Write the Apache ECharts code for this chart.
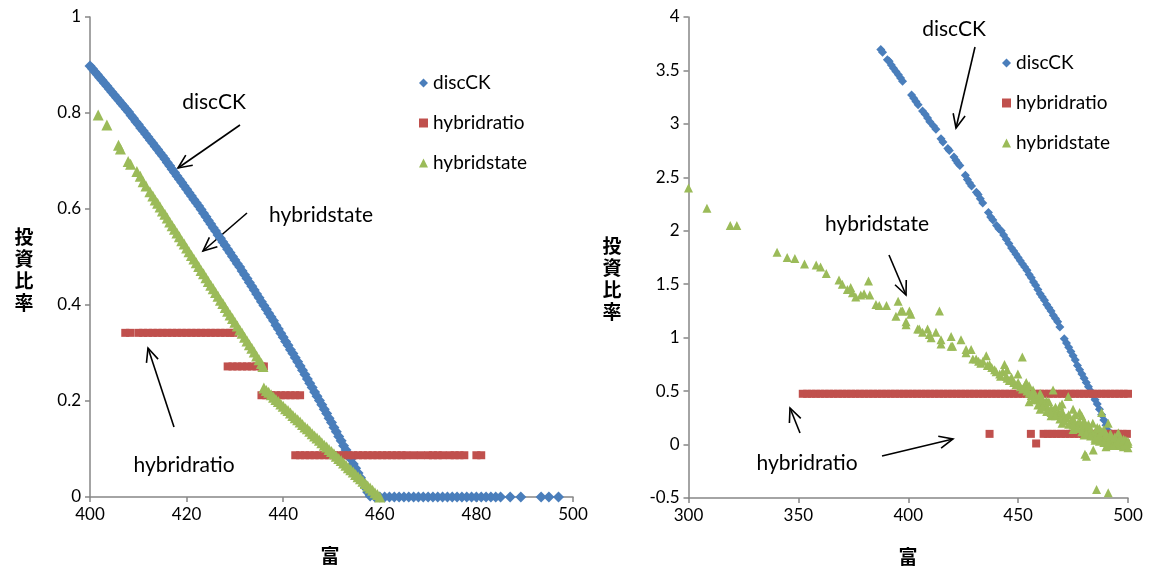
<!DOCTYPE html>
<html>
<head>
<meta charset="utf-8">
<script src="https://cdn.jsdelivr.net/npm/echarts@6/dist/echarts.min.js"></script>
<style>html,body{margin:0;background:#fff}#chart{width:1152px;height:572px}</style>
</head>
<body>
<div id="chart"></div>
<script>
// left panel (wealth 400-500)
const leftDiscCK = [
  [400,.898],[400.5,.892],[401,.886],[401.5,.880],[402,.874],[402.5,.868],[403,.862],[403.5,.856],
  [404,.850],[404.5,.844],[405,.838],[405.5,.832],[406,.826],[406.5,.820],[407,.814],[407.5,.808],
  [408,.802],[408.5,.795],[409,.789],[409.5,.782],[410,.776],[410.5,.769],[411,.763],[411.5,.756],
  [412,.750],[412.5,.743],[413,.737],[413.5,.730],[414,.724],[414.5,.717],[415,.711],[415.5,.704],
  [416,.697],[416.5,.690],[417,.683],[417.5,.676],[418,.669],[418.5,.662],[419,.655],[419.5,.648],
  [420,.641],[420.5,.634],[421,.627],[421.5,.620],[422,.613],[422.5,.606],[423,.599],[423.5,.591],
  [424,.584],[424.5,.576],[425,.569],[425.5,.561],[426,.554],[426.5,.546],[427,.539],[427.5,.531],
  [428,.524],[428.5,.516],[429,.509],[429.5,.501],[430,.494],[430.5,.486],[431,.479],[431.5,.471],
  [432,.463],[432.5,.455],[433,.447],[433.5,.439],[434,.431],[434.5,.423],[435,.415],[435.5,.407],
  [436,.399],[436.5,.391],[437,.383],[437.5,.375],[438,.367],[438.5,.358],[439,.350],[439.5,.341],
  [440,.333],[440.5,.324],[441,.316],[441.5,.307],[442,.299],[442.5,.290],[443,.282],[443.5,.273],
  [444,.264],[444.5,.255],[445,.246],[445.5,.237],[446,.228],[446.5,.219],[447,.210],[447.5,.201],
  [448,.192],[448.5,.183],[449,.174],[449.5,.164],[450,.155],[450.5,.145],[451,.136],[451.5,.126],
  [452,.117],[452.5,.107],[453,.098],[453.5,.088],[454,.079],[454.5,.069],[455,.060],[455.5,.050],
  [456,.040],[456.5,.030],[457,.020],[457.5,.010],[458,.002],
  [459,0],[460,0],[461,0],[462,0],[463,0],[464,0],[465,0],[466,0],[467,0],[468,0],[469,0],[470,0],[471,0],
  [472,0],[473,0],[474,0],[475,0],[476,0],[477,0],[478,0],[479,0],[480,0],[481,0],[482,0],[483,0],[484,0],
  [485,0],[487,0],[489.2,0],[493.4,0],[495,0],[497,0]
];
const leftRatio = [
  [407.3,.342],[408.3,.342],[410,.342],[411,.342],[412,.342],[413,.342],[414,.342],[415,.342],[416,.342],
  [417,.342],[418,.342],[419,.342],[420,.342],[421,.342],[422,.342],[423,.342],[424,.342],[425,.342],
  [426,.342],[427,.342],[428,.342],[429,.342],[429.7,.342],
  [428.5,.272],[429.5,.272],[430.5,.272],[431.5,.272],[432.5,.272],[433.5,.272],[434.5,.272],[435.5,.272],[436,.272],
  [435.5,.212],[436.5,.212],[437.5,.212],[438.5,.212],[439.5,.212],[440.5,.212],[441.5,.212],[442.5,.212],[443.5,.212],
  [442.5,.087],[443.5,.087],[444.5,.087],[445.5,.087],[446.5,.087],[447.5,.087],[448.5,.087],[449.5,.087],
  [450.5,.087],[451.5,.087],[452.5,.087],[453.5,.087],[454.5,.087],[455.5,.087],[456.5,.087],[457.5,.087],
  [458.5,.087],[459.5,.087],[460.5,.087],[461.5,.087],[462.5,.087],[463.5,.087],[464.5,.087],[465.5,.087],
  [467,.087],[468.5,.087],[470,.087],[471,.087],[472,.087],[473,.087],[474.5,.087],[475.5,.087],[476.5,.087],
  [477.5,.087],[480,.087],[481,.087]
];
const leftState = [
  [401.7,.796],[403.5,.775],[405.9,.733],[406.3,.725],[407.9,.699],[408.4,.693],[409.7,.678],[410.4,.668],
  [411,.657],[411.6,.648],[412.4,.636],[413,.627],[413.5,.619],[414,.612],[414.5,.604],[415,.596],[415.5,.589],
  [416,.581],[416.5,.573],[417,.565],[417.5,.558],[418,.550],[418.5,.542],[419,.534],[419.5,.527],[420,.519],
  [420.5,.511],[421,.503],[421.5,.496],[422,.488],[422.5,.480],[423,.472],[423.5,.465],[424,.457],[424.5,.449],
  [425,.441],[425.5,.434],[426,.426],[426.5,.418],[427,.410],[427.5,.403],[428,.395],[428.5,.387],[429,.379],
  [429.5,.372],[430,.364],[430.5,.356],[431,.348],[431.5,.341],[432,.333],[432.5,.325],[433,.317],[433.5,.310],
  [434,.302],[434.5,.294],[435,.286],[435.5,.278],[435.8,.272],
  [436,.227],[436.5,.222],[437,.218],[437.5,.213],[438,.208],[438.5,.203],[439,.199],[439.5,.194],[440,.189],
  [440.5,.184],[441,.180],[441.5,.175],[442,.170],[442.5,.165],[443,.161],[443.5,.156],[444,.151],[444.5,.146],
  [445,.142],[445.5,.137],[446,.132],[446.5,.127],[447,.123],[447.5,.118],[448,.113],[448.5,.108],[449,.104],
  [449.5,.099],[450,.095],[450.5,.090],[451,.085],[451.5,.080],[452,.076],[452.5,.071],[453,.066],[453.5,.061],
  [454,.057],[454.5,.052],[455,.047],[455.5,.042],[456,.038],[456.5,.033],[457,.028],[457.5,.023],[458,.019],
  [458.5,.014],[459,.009],[459.5,.005],[460,0]
];

// right panel (wealth 300-500)
const rightDiscCK = [
  [387.5,3.695],[388.3,3.67],[390.5,3.60],[391.3,3.585],[392.3,3.55],[393.3,3.52],[394.4,3.49],[395.5,3.46],
  [396.5,3.43],[397.4,3.40],[401.5,3.27],[402.5,3.24],[403.5,3.21],[404.5,3.18],[406.5,3.12],[407.7,3.09],
  [408.8,3.056],[409.8,3.02],[411.5,2.98],[412.6,2.95],[414.9,2.86],[415.8,2.83],[418,2.77],[418.7,2.75],
  [420.8,2.69],[421.7,2.66],[422.5,2.635],[423.5,2.61],[426,2.52],[426.9,2.48],[427.9,2.448],[428.8,2.42],
  [431,2.36],[431.8,2.34],[432.8,2.30],[433.9,2.26],[436.5,2.17],[437.5,2.13],[438.5,2.10],[440.2,2.05],
  [441.2,2.02],[442.3,2.00],[443.4,1.96],[444.6,1.92],[445.8,1.88],[447,1.84],[448,1.81],[449,1.78],
  [450,1.75],[451,1.72],[452,1.69],[453,1.66],[454,1.63],[455,1.59],[456,1.56],[457,1.52],[458,1.49],
  [459,1.45],[460,1.41],[461,1.38],[462,1.35],[463,1.31],[464,1.28],[465,1.25],[466,1.21],[467,1.18],
  [468,1.15],[469,1.10],[471,0.99],[472,0.95],[473,0.91],[474,0.87],[475,0.83],[476,0.79],[477,0.74],
  [478,0.70],[479,0.66],[480,0.62],[481,0.58],[482,0.54],[483,0.50],[484,0.46],[485,0.42],[486,0.38],
  [487,0.33],[488,0.28],[489,0.23],[490,0.18],[491,0.13],[492,0.08],[493,0.03],[494,0.00]
];
const rightRatioHi = [352,354,356,358,360,362,364,366,368,370,372,374,376,378,380,382,384,386,388,
  390,392,394,396,398,400,402,404,406,408,410,412,414,416,418,420,422,424,426,428,430,432,434,436,438,440,
  442,444,446,448,450,452,454,456,458,460,462,464,466,468,470,472,474,476,478,480,482,484,486,488,490,
  492,494,496,498,500];
const rightRatioMid = [437,455.8,461.6,463.5,465.5,467.5,469.5,471.5,473.5,475.5,477.5,479.5,481.5,483.5,
  485.5,487.5,489.5,491.5,493.5,495.5,497.5,499.5];
const rightRatioLow = [458.2,493,494.5,496,497.5,499];
const ratioLevels = [0.475, 0.10, 0.01];
const rightState = [
  [300,2.40],[308.4,2.21],[319,2.05],[322,2.05],[340.3,1.80],[344.9,1.75],[348.4,1.74],[352.8,1.69],
  [358.1,1.68],[360.1,1.66],[362.7,1.60],[368.5,1.54],[370,1.50],[372.3,1.45],[373.8,1.47],[374.6,1.42],
  [376.1,1.38],[378.4,1.40],[379.9,1.41],[381.9,1.53],[382.5,1.40],[385.3,1.31],[386.8,1.30],[390.1,1.30],
  [394.4,1.20],[395.4,1.34],[396.7,1.25],[397.4,1.25],[399,1.15],[399,1.12],[400.5,1.25],[401.2,1.22],
  [404.3,1.08],[405,1.08],[406.5,1.05],[408.8,1.08],[409.6,1.03],[410.4,1.00],[412.6,1.05],[414.2,1.25],
  [414.9,0.98],[414.9,0.94],[419.5,1.01],[419.5,0.92],[420.2,0.92],[424,0.98],[426.3,0.86],[426.3,0.89],
  [428.6,0.89],[429.4,0.80],[430.9,0.80],[435.5,0.83],[437,0.75],[439.3,0.70],[441.6,0.66],[443.8,0.75],
  [444.6,0.64],[449.9,0.66],[451.9,0.82],[453.7,0.58],[456.8,0.51],[459.8,0.45],[462.9,0.41],[465.9,0.51],
  [469,0.36],[472.8,0.45],[475,0.33],[478.9,0.27],[479.6,0.20],[481.9,0.17],[485,0.11],[487.3,0.06],
  [488,0.30],[490.3,0.02],[491,0.20],[493.3,0.00],[495.6,0.11],[497.9,-0.02],[500,-0.03],[481.1,-0.11],
  [484.2,-0.05],[480.4,-0.09],[485.7,-0.42],[491,-0.45],
  [432,0.78],[433,0.76],[434,0.78],[436,0.74],[438,0.72],[440,0.68],[442,0.64],[443,0.68],[445,0.62],
  [446,0.60],[447,0.63],[448,0.58],[449,0.56],[450,0.58],[451,0.54],[452,0.52],[453,0.55],[454,0.50],
  [455,0.48],[456,0.46],[457,0.49],[458,0.44],[459,0.42],[460,0.40],[461,0.43],[462,0.38],[463,0.36],
  [464,0.40],[465,0.34],[466,0.32],[467,0.35],[468,0.30],[469,0.29],[470,0.31],[471,0.26],[472,0.25],
  [473,0.28],[474,0.22],[475,0.24],[476,0.20],[477,0.19],[478,0.21],[479,0.16],[480,0.15],[481,0.13],
  [482,0.12],[483,0.14],[484,0.10],[485,0.08],[486,0.07],[487,0.09],[488,0.05],[489,0.04],[490,0.06],
  [491,0.03],[492,0.05],[493,0.02],[494,0.03],[495,0.01],[496,0.02],[497,0.00],[498,0.01],[499,0.00],[500,0.01],
  [455,0.40],[460,0.33],[465,0.27],[470,0.20],[475,0.14],[480,0.09],[485,0.04],[490,-0.02],[495,-0.01],
  [445,0.70],[455,0.55],[460,0.48],[470,0.38],[478,0.30],[484,0.20],[487,0.15],[492,0.10],[496,0.06],[499,0.04],
  [457,0.42],[459,0.37],[461,0.35],[463,0.31],[465,0.30],[467,0.27],[469,0.24],[471,0.22],[473,0.19],
  [475,0.18],[477,0.15],[479,0.12],[481,0.10],[483,0.08],[485,0.06],[487,0.03],[489,0.02],[491,0.01],
  [493,-0.01],[495,0.03],[497,0.04],[499,0.02],[488,0.12],[490,0.10],[492,0.08],[494,0.07],[496,0.04],
  [498,0.05],[500,0.03],[476,0.28],[480,0.22],[482,0.19],[486,0.16],[489,0.14]
];

const seriesNames = ['discCK', 'hybridratio', 'hybridstate'];
const BLUE = '#4a7ebb', RED = '#c0504d', GREEN = '#9bbb59';
const FONT = 'Lato, "Open Sans", sans-serif';
const CJK = '"Noto Sans CJK JP", sans-serif';

const rightRatio = [
  ...rightRatioHi.map(x => [x, ratioLevels[0]]),
  ...rightRatioMid.map(x => [x, ratioLevels[1]]),
  ...rightRatioLow.map(x => [x, ratioLevels[2]])
];

function arrow(x1, y1, x2, y2) {
  const a = Math.atan2(y2 - y1, x2 - x1), L = 15, s = 0.42;
  return [
    { type: 'line', shape: { x1, y1, x2, y2 }, style: { stroke: '#000', lineWidth: 1.6 } },
    { type: 'polyline', shape: { points: [
      [x2 - L * Math.cos(a - s), y2 - L * Math.sin(a - s)], [x2, y2],
      [x2 - L * Math.cos(a + s), y2 - L * Math.sin(a + s)] ] },
      style: { stroke: '#000', lineWidth: 1.6, fill: null } }
  ];
}
function note(text, x, y) {
  return { type: 'text', x, y, style: { text, font: '21px ' + FONT, fill: '#000', align: 'center', verticalAlign: 'middle' } };
}
function axisName(text, x, y) {
  return { type: 'text', x, y, style: { text, font: 'bold 19px ' + CJK, fill: '#000', align: 'center', verticalAlign: 'middle', lineHeight: 22 } };
}

const axisCommon = {
  type: 'value',
  axisLine: { show: true, onZero: false, lineStyle: { color: '#868686', width: 1.5 } },
  axisTick: { show: true, length: 5, lineStyle: { color: '#868686', width: 1.5 } },
  splitLine: { show: false },
  axisLabel: { color: '#000', fontSize: 17, fontFamily: FONT, margin: 9 }
};

function legendFor(left, top) {
  return {
    orient: 'vertical', left, top, itemWidth: 9, itemHeight: 9, itemGap: 20,
    textStyle: { fontSize: 19, fontFamily: FONT, color: '#000', lineHeight: 20 },
    data: [
      { name: seriesNames[0], icon: 'diamond' },
      { name: seriesNames[1], icon: 'rect' },
      { name: seriesNames[2], icon: 'triangle' }
    ],
    selectedMode: false
  };
}

const chart = echarts.init(document.getElementById('chart'), null, { renderer: 'canvas' });
chart.setOption({
  animation: false,
  backgroundColor: '#fff',
  grid: [
    { left: 90, top: 17, width: 483, height: 480 },
    { left: 688.5, top: 17, width: 439.5, height: 481 }
  ],
  xAxis: [
    Object.assign({}, axisCommon, { gridIndex: 0, min: 400, max: 500, interval: 20 }),
    Object.assign({}, axisCommon, { gridIndex: 1, min: 300, max: 500, interval: 50 })
  ],
  yAxis: [
    Object.assign({}, axisCommon, { gridIndex: 0, min: 0, max: 1, interval: 0.2 }),
    Object.assign({}, axisCommon, { gridIndex: 1, min: -0.5, max: 4, interval: 0.5 })
  ],
  legend: [legendFor(414, 68), legendFor(997, 48)],
  series: [
    { name: 'discCK', type: 'scatter', xAxisIndex: 0, yAxisIndex: 0, symbol: 'diamond', symbolSize: 11, itemStyle: { color: BLUE, opacity: 1 }, data: leftDiscCK },
    { name: 'hybridratio', type: 'scatter', xAxisIndex: 0, yAxisIndex: 0, symbol: 'rect', symbolSize: 8, itemStyle: { color: RED, opacity: 1 }, data: leftRatio },
    { name: 'hybridstate', type: 'scatter', xAxisIndex: 0, yAxisIndex: 0, symbol: 'triangle', symbolSize: 11, itemStyle: { color: GREEN, opacity: 1 }, data: leftState },
    { name: 'discCK', type: 'scatter', xAxisIndex: 1, yAxisIndex: 1, symbol: 'diamond', symbolSize: 9, itemStyle: { color: BLUE, opacity: 1 }, data: rightDiscCK },
    { name: 'hybridratio', type: 'scatter', xAxisIndex: 1, yAxisIndex: 1, symbol: 'rect', symbolSize: 8, itemStyle: { color: RED, opacity: 1 }, data: rightRatio },
    { name: 'hybridstate', type: 'scatter', xAxisIndex: 1, yAxisIndex: 1, symbol: 'triangle', symbolSize: 9, itemStyle: { color: GREEN, opacity: 1 }, data: rightState }
  ],
  graphic: [
    axisName('投\n資\n比\n率', 24, 270),
    axisName('投\n資\n比\n率', 612, 279),
    axisName('富', 330, 556),
    axisName('富', 908, 557),
    note('discCK', 214, 102), ...arrow(240, 125, 178, 168),
    note('hybridstate', 321, 215), ...arrow(247, 213, 203, 251),
    note('hybridratio', 184, 465), ...arrow(174, 427, 148, 348),
    note('discCK', 954, 29), ...arrow(975, 47, 956, 128),
    note('hybridstate', 877, 224), ...arrow(889, 255, 906, 295),
    note('hybridratio', 807, 463), ...arrow(882, 456, 953, 439), ...arrow(800, 433, 790, 408)
  ]
});
</script>
</body>
</html>
